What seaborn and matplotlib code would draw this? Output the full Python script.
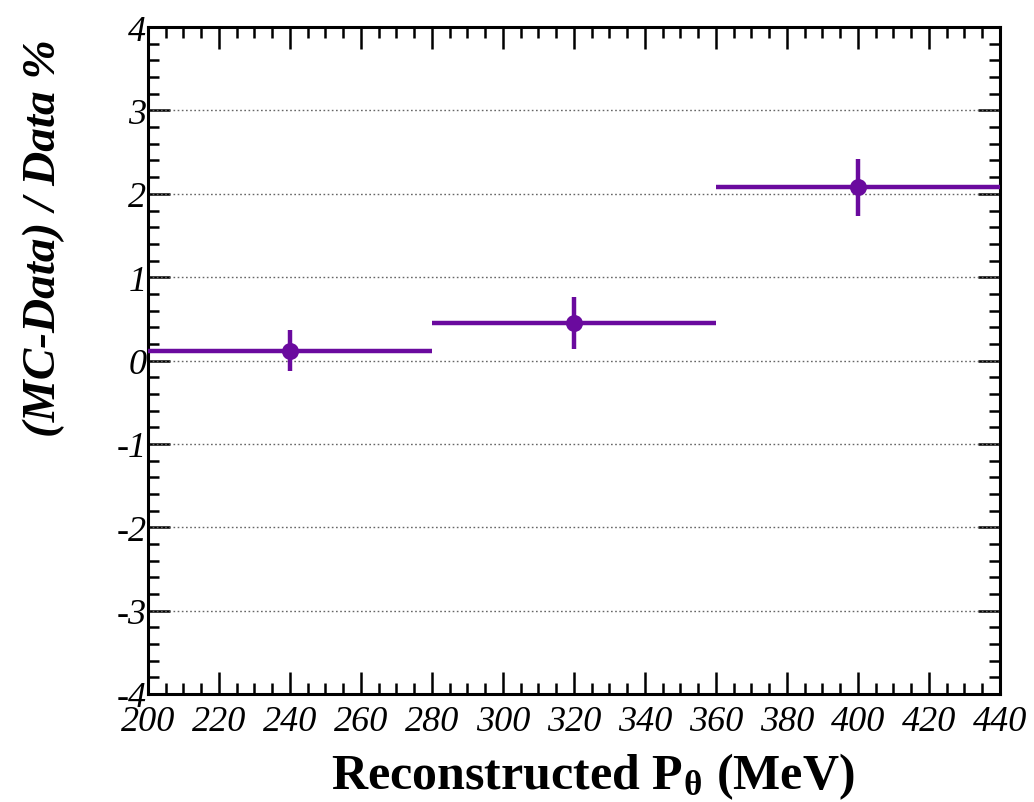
import matplotlib
matplotlib.use("Agg")
import matplotlib.pyplot as plt
import seaborn as sns
import numpy as np
import pandas as pd
from matplotlib.ticker import MultipleLocator, FuncFormatter

bin_centers = [240, 320, 400]
bin_half_widths = [40, 40, 40]
values = [0.12, 0.45, 2.08]
errors = [0.25, 0.31, 0.34]

sns.set_theme(style="white")
plt.rcParams['font.family'] = ['Liberation Serif', 'DejaVu Serif']
plt.rcParams['mathtext.fontset'] = 'stix'
plt.rcParams['text.color'] = 'black'
plt.rcParams['axes.labelcolor'] = 'black'
plt.rcParams['xtick.color'] = 'black'
plt.rcParams['ytick.color'] = 'black'
plt.rcParams['axes.unicode_minus'] = False

df = pd.DataFrame({"x": bin_centers, "y": values, "xerr": bin_half_widths, "yerr": errors})

fig = plt.figure(figsize=(10.34, 8.03), dpi=100)
ax = fig.add_axes([0.143, 0.1345, 0.824, 0.8305])

color = "#6a0a9e"
ax.errorbar(df["x"], df["y"], xerr=df["xerr"], yerr=df["yerr"], fmt="none",
            ecolor=color, elinewidth=3.2, capsize=0, zorder=3)
sns.scatterplot(data=df, x="x", y="y", ax=ax, color=color, s=150, marker="o",
                edgecolor=color, linewidth=0, zorder=4, legend=False)

ax.set_xlim(200, 440)
ax.set_ylim(-4, 4)
ax.xaxis.set_major_locator(MultipleLocator(20))
ax.xaxis.set_minor_locator(MultipleLocator(5))
ax.yaxis.set_major_locator(MultipleLocator(1))
ax.yaxis.set_minor_locator(MultipleLocator(0.2))
ax.yaxis.set_major_formatter(FuncFormatter(lambda v, p: f"{int(round(v))}"))

for yv in [-3, -2, -1, 0, 1, 2, 3]:
    ax.axhline(yv, color="#666666", linestyle=(0, (1.2, 1.8)), linewidth=1.0, zorder=1)

ax.tick_params(which="both", direction="in", top=True, right=True, bottom=True, left=True,
               color="black", width=1.8)
ax.tick_params(which="major", length=16, labelsize=26)
ax.tick_params(axis="x", which="major", pad=8)
ax.tick_params(axis="y", which="major", pad=1)
ax.tick_params(which="minor", length=8)
for lab in ax.get_xticklabels() + ax.get_yticklabels():
    lab.set_fontstyle("italic")
for s in ax.spines.values():
    s.set_linewidth(2.2)
    s.set_color("black")

ax.set_xlabel(r"Reconstructed P$_{\mathregular{θ}}$ (MeV)", fontsize=36, fontweight="bold")
ax.xaxis.set_label_coords(0.522, -0.085)
ax.set_ylabel("(MC-Data) / Data %", fontsize=34, fontweight="bold", fontstyle="italic")
ax.yaxis.set_label_coords(-0.097, 0.685)

fig.savefig("out.png", dpi=100)
